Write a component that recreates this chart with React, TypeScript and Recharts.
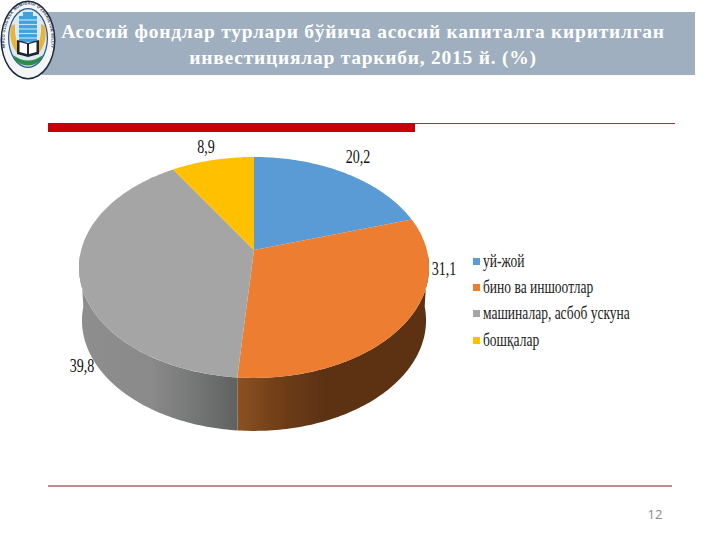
import React from "react";
import { PieChart, Pie, Cell, Legend } from "recharts";

const categories = ["уй-жой", "бино ва иншоотлар", "машиналар, асбоб ускуна", "бошқалар"];
const shares = [20.2, 31.1, 39.8, 8.9];
const valueLabels = ["20,2", "31,1", "39,8", "8,9"];
const sliceColors = ["#5B9BD5", "#ED7D31", "#A5A5A5", "#FFC000"];
const titleLines = [
  "Асосий фондлар турлари бўйича асосий капиталга киритилган",
  "инвестициялар таркиби, 2015 й. (%)",
];
const pageNumber = "12";

const rows = categories.map((name, i) => ({ name, value: shares[i], label: valueLabels[i] }));

// layout of the tilted disc
const CX = 254;
const CY = 250;
const R = 172.8;
const H = 107.7;
const K = 0.158;
const DEPTH = 53;
const LOWER_SHRINK = 0.983;
const LABEL_POS = [
  [358, 163],
  [444, 275],
  [82, 372],
  [206, 153],
];

const WALLS: Record<string, { x1: number; x2: number; stops: [number, string][] }> = {
  "#ED7D31": {
    x1: 237,
    x2: 430,
    stops: [
      [0, "#8C5122"],
      [0.2, "#723F18"],
      [0.45, "#5C3213"],
      [1, "#5C3213"],
    ],
  },
  "#A5A5A5": {
    x1: 79,
    x2: 238,
    stops: [
      [0, "#8E8E8E"],
      [0.45, "#8A8A8A"],
      [0.75, "#747575"],
      [1, "#5F6161"],
    ],
  },
};

function project(deg: number): [number, number] {
  const t = (deg * Math.PI) / 180;
  const w = 1 + K * Math.cos(t);
  return [CX + (R * Math.sin(t)) / w, CY - (H * Math.cos(t)) / w];
}

function arcPoints(from: number, to: number): [number, number][] {
  const n = Math.max(2, Math.ceil(Math.abs(to - from)));
  const out: [number, number][] = [];
  for (let i = 0; i <= n; i++) out.push(project(from + ((to - from) * i) / n));
  return out;
}

const toPath = (pts: [number, number][]) =>
  pts.map((p, i) => `${i ? "L" : "M"}${p[0].toFixed(2)} ${p[1].toFixed(2)}`).join(" ");

function DiscSlice(props: any) {
  const { startAngle, endAngle, fill } = props;
  const a = 90 - startAngle;
  const b = 90 - endAngle;
  const top = arcPoints(a, b);
  const topPath = `M${CX} ${CY} ${toPath(top).replace("M", "L")} Z`;
  const wall = WALLS[fill];
  const wa = Math.max(a, 92);
  const wb = Math.min(b, 268);
  let wallEl = null;
  if (wall && wb > wa) {
    const upper = arcPoints(wa, wb);
    const lower = arcPoints(wb, wa).map(
      ([x, y]) => [CX + (x - CX) * LOWER_SHRINK, y + DEPTH] as [number, number]
    );
    const id = `wall-${fill.slice(1)}`;
    wallEl = (
      <>
        <defs>
          <linearGradient id={id} gradientUnits="userSpaceOnUse" x1={wall.x1} x2={wall.x2} y1={0} y2={0}>
            {wall.stops.map(([o, c]) => (
              <stop key={o} offset={o} stopColor={c} />
            ))}
          </linearGradient>
        </defs>
        <path d={`${toPath(upper)} ${toPath(lower).replace("M", "L")} Z`} fill={`url(#${id})`} />
      </>
    );
  }
  return (
    <g>
      {wallEl}
      <path d={topPath} fill={fill} />
    </g>
  );
}

function ValueLabel(props: any) {
  const { index } = props;
  const [x, y] = LABEL_POS[index];
  return (
    <text
      x={x}
      y={y}
      textAnchor="middle"
      fontFamily="'Liberation Serif', serif"
      fontSize={18.5}
      fill="#111"
      transform={`translate(${x} 0) scale(0.76 1) translate(${-x} 0)`}
    >
      {valueLabels[index]}
    </text>
  );
}

function LegendBox() {
  return (
    <div style={{ fontFamily: "'Liberation Serif', serif", fontSize: 18, color: "#222" }}>
      {categories.map((c, i) => (
        <div key={c} style={{ height: 26.3, display: "flex", alignItems: "center", whiteSpace: "nowrap" }}>
          <span style={{ width: 7, height: 7, background: sliceColors[i], display: "inline-block", marginRight: 3, flex: "none" }} />
          <span style={{ display: "inline-block", transform: "scaleX(0.75)", transformOrigin: "left center" }}>{c}</span>
        </div>
      ))}
    </div>
  );
}

function Logo() {
  return (
    <g>
      <ellipse cx={28} cy={40} rx={27.5} ry={39.5} fill="#1D2A3E" />
      <ellipse cx={28} cy={40} rx={26} ry={38} fill="#F4F5F5" />
      <path id="logoArc" d="M5 48 A23.5 36 0 1 1 51 48" fill="none" />
      <text fontFamily="'Liberation Sans', sans-serif" fontSize={4} fontWeight={700} fill="#2A3A5C" letterSpacing={0.25}>
        <textPath href="#logoArc" startOffset="50%" textAnchor="middle">
          MIRZO ULUG'BEK NOMIDAGI O'ZBEKISTON MILLIY
        </textPath>
      </text>
      <ellipse cx={28} cy={38} rx={20} ry={30} fill="#2A4F8C" />
      <ellipse cx={28} cy={38} rx={18.8} ry={28.8} fill="#DCEAF1" />
      <path d="M11 26 Q8 44 19 55 L21 50 Q14 40 15 24 Z" fill="#E8B53A" />
      <path d="M45 26 Q48 44 37 55 L35 50 Q42 40 41 24 Z" fill="#E8B53A" />
      <rect x={19} y={16} width={18} height={26} fill="#3FA2DC" />
      <rect x={23} y={12} width={10} height={5} fill="#3FA2DC" />
      {[20, 24.5, 29, 33.5, 38].map((y) => (
        <line key={y} x1={19} x2={37} y1={y} y2={y} stroke="#BFE2F4" strokeWidth={1.2} />
      ))}
      <path d="M17 40 L28 43 L39 40 L39 54 L28 57 L17 54 Z" fill="#1B2433" />
      <path d="M19.5 42 L27 44 L27 54 L19.5 52 Z M29 44 L36.5 42 L36.5 52 L29 54 Z" fill="#FFFFFF" />
      <path d="M13 55 Q28 66 43 55 L40 61 Q28 70 16 61 Z" fill="#2E8C4A" />
    </g>
  );
}

export default function App() {
  return (
    <div style={{ position: "absolute", left: 0, top: 0, width: 720, height: 540, background: "#fff", overflow: "hidden" }}>
      <svg width={720} height={540} style={{ position: "absolute", left: 0, top: 0 }}>
        <rect x={42} y={12} width={653} height={63} fill="#9FAFC0" />
        <Logo />
        {titleLines.map((line, i) => (
          <text
            key={line}
            x={363}
            y={38 + i * 25.5}
            textAnchor="middle"
            fontFamily="'Liberation Serif', serif"
            fontWeight={700}
            fontSize={19.5}
            letterSpacing={0.75}
            fill="#FFFFFF"
          >
            {line}
          </text>
        ))}
        <rect x={48} y={123} width={367} height={9} fill="#C80000" />
        <rect x={415} y={123} width={260} height={1} fill="#A83030" />
        <rect x={48} y={485} width={624} height={2} fill="#C08C8E" />
        <text x={655} y={519} textAnchor="middle" fontFamily="'Open Sans', sans-serif" fontSize={13} fill="#8B8B8B">
          {pageNumber}
        </text>
      </svg>
      <div style={{ position: "absolute", left: 0, top: 0 }}>
        <PieChart width={720} height={540} margin={{ top: 0, right: 0, bottom: 0, left: 0 }}>
          <Pie
            data={rows}
            dataKey="value"
            nameKey="name"
            cx={CX}
            cy={CY}
            outerRadius={100}
            startAngle={90}
            endAngle={-270}
            stroke="none"
            isAnimationActive={false}
            shape={DiscSlice}
            label={ValueLabel}
            labelLine={false}
          >
            {rows.map((r, i) => (
              <Cell key={r.name} fill={sliceColors[i]} />
            ))}
          </Pie>
          <Legend
            layout="vertical"
            content={<LegendBox />}
            wrapperStyle={{ position: "absolute", left: 473, top: 248, width: 200, height: 110 }}
          />
        </PieChart>
      </div>
    </div>
  );
}
